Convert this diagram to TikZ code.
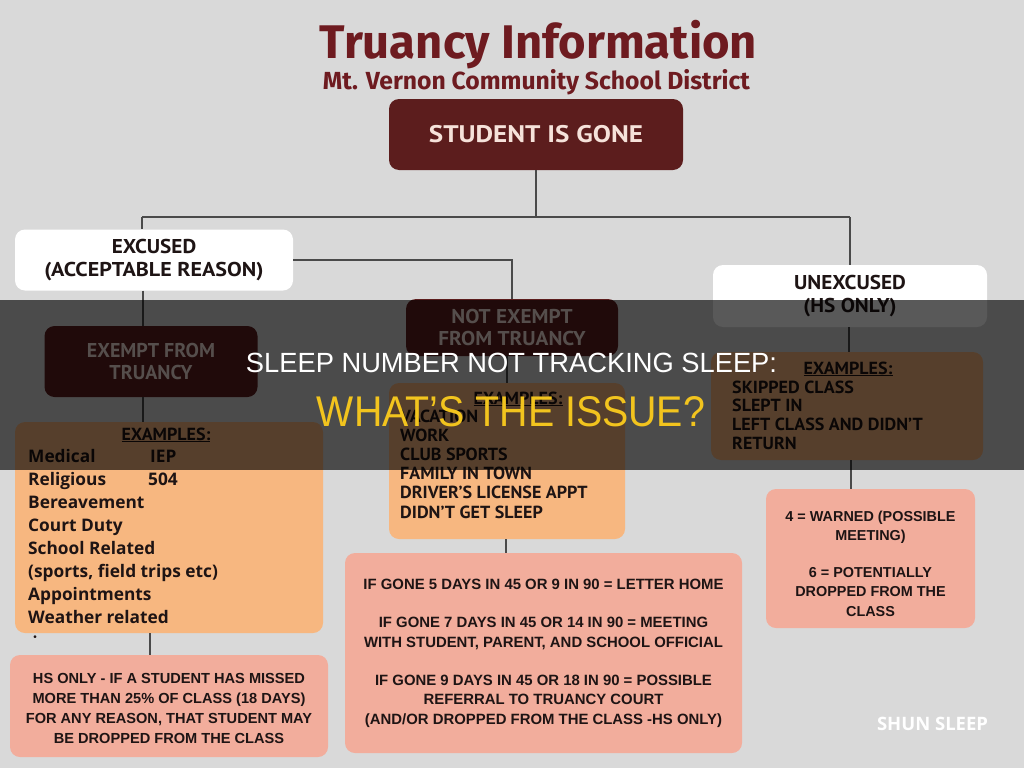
\documentclass[tikz,border=0pt]{standalone}
\usepackage{fontspec}
\usepackage{graphicx}
\setmainfont{Liberation Sans}
\newfontfamily\ptsans{PT Sans}
\newfontfamily\hdr{PT Sans}[FakeStretch=1.06]
\newfontfamily\lst{PT Sans}[FakeStretch=1.03]
\newfontfamily\osans{Open Sans}
\newfontfamily\fira{Fira Sans}
\definecolor{bgc}{HTML}{D9D9D9}
\definecolor{maroon}{HTML}{5C1D1D}
\definecolor{titlec}{HTML}{6E1B20}
\definecolor{cream}{HTML}{F6E2DA}
\definecolor{orangec}{HTML}{F7B780}
\definecolor{salmon}{HTML}{F2AD9C}
\definecolor{ink}{HTML}{1E1414}
\definecolor{linec}{HTML}{4A4A4A}
\definecolor{yellowc}{HTML}{F2C41E}
\begin{document}
\begin{tikzpicture}[x=1pt,y=-1pt,
  box/.style={rounded corners=10pt, inner sep=0pt, align=center},
  mbox/.style={box, fill=maroon, text=cream, font=\hdr\bfseries\fontsize{20}{22}\selectfont},
  wbox/.style={box, fill=white, text=ink, font=\hdr\bfseries\fontsize{20}{23.5}\selectfont},
  obox/.style={box, fill=orangec},
  sbox/.style={box, fill=salmon, text=ink, font=\bfseries\fontsize{14.9}{19.3}\selectfont},
  stxt/.style={inner sep=0pt, align=center, text=ink, font=\bfseries\fontsize{14.4}{19.3}\selectfont},
  conn/.style={draw=linec, line width=1.3pt},
  listtxt/.style={inner sep=0pt, anchor=base west, text=ink, font=\lst\bfseries\fontsize{17.5}{19.2}\selectfont},
  extitle/.style={inner sep=0pt, anchor=base, text=ink, font=\lst\bfseries\fontsize{17.5}{19.2}\selectfont}
]
% background
\fill[bgc] (0,0) rectangle (1024,768);
\useasboundingbox (0,0) rectangle (1024,768);

% title
\node[anchor=base, inner sep=0pt, text=titlec] (title) at (538.5,58)
  {\resizebox{437pt}{!}{\fira\bfseries Truancy Information}};
\node[anchor=base, inner sep=0pt, text=titlec] (subtitle) at (536.5,89)
  {\resizebox{427pt}{!}{\fira\bfseries Mt. Vernon Community School District}};

% boxes
\node[mbox, minimum width=294pt, minimum height=71pt, font=\ptsans\bfseries\fontsize{24}{26}\selectfont] (gone) at (536,134.5) {\scalebox{1.13}[1]{STUDENT IS GONE}};
\node[wbox, minimum width=278pt, minimum height=61pt] (excused) at (154,260) {EXCUSED\\\scalebox{1.04}[1]{(ACCEPTABLE REASON)}};
\node[mbox, minimum width=213pt, minimum height=71pt, font=\ptsans\bfseries\fontsize{20}{21.5}\selectfont] (exempt) at (151,361.5) {EXEMPT FROM\\TRUANCY};
\node[obox, minimum width=308pt, minimum height=211pt] (exL) at (169,527.5) {};
\node[sbox, minimum width=318pt, minimum height=102pt] (hsL) at (169,706) {};
\node[stxt, font=\bfseries\fontsize{14.6}{20}\selectfont] (hsLt) at (169,708.5) {HS ONLY - IF A STUDENT HAS MISSED\\MORE THAN 25\% OF CLASS (18 DAYS)\\FOR ANY REASON, THAT STUDENT MAY\\BE DROPPED FROM THE CLASS};

\node[mbox, minimum width=212pt, minimum height=57pt] (notex) at (512,327.5) {NOT EXEMPT\\FROM TRUANCY};
\node[obox, minimum width=236pt, minimum height=156pt] (exM) at (507,461) {};
\node[sbox, minimum width=397pt, minimum height=200pt] (bigM) at (543.5,653)
  {IF GONE 5 DAYS IN 45 OR 9 IN 90 = LETTER HOME\\[19.3pt]
   IF GONE 7 DAYS IN 45 OR 14 IN 90 = MEETING\\WITH STUDENT, PARENT, AND SCHOOL OFFICIAL\\[19.3pt]
   IF GONE 9 DAYS IN 45 OR 18 IN 90 = POSSIBLE\\REFERRAL TO TRUANCY COURT\\(AND/OR DROPPED FROM THE CLASS -HS ONLY)};

\node[wbox, minimum width=274pt, minimum height=62pt, font=\hdr\bfseries\fontsize{20}{23}\selectfont] (unex) at (850,296) {UNEXCUSED\\(HS ONLY)};
\node[obox, minimum width=272pt, minimum height=108pt] (exR) at (847,406) {};
\node[sbox, minimum width=209pt, minimum height=139pt] (salR) at (870.5,558.5) {};
\node[stxt] (salRt) at (870.5,563.5)
  {4 = WARNED (POSSIBLE\\MEETING)\\[18pt]6 = POTENTIALLY\\DROPPED FROM THE\\CLASS};

% list texts
\node[extitle] (exLh) at (166,440) {\underline{EXAMPLES:}};
\node[listtxt, font=\osans\bfseries\fontsize{17.3}{23}\selectfont] (exLt) at (28,462)
  {\begin{tabular}[t]{@{}l@{}}
   \makebox[122pt][l]{Medical}IEP\\
   \makebox[120pt][l]{Religious}504\\
   Bereavement\\
   Court Duty\\
   School Related\\
   (sports, field trips etc)\\
   Appointments\\
   Weather related
   \end{tabular}};
\node[inner sep=0pt, text=ink, font=\fontsize{10}{10}\selectfont] (bullet) at (35,638.5) {•};

\node[extitle] (exMh) at (518,404) {\underline{EXAMPLES:}};
\node[listtxt] (exMt) at (400,422)
  {\begin{tabular}[t]{@{}l@{}}
   VACATION\\
   WORK\\
   CLUB SPORTS\\
   FAMILY IN TOWN\\
   DRIVER’S LICENSE APPT\\
   DIDN’T GET SLEEP
   \end{tabular}};

\node[extitle] (exRh) at (848,374) {\underline{EXAMPLES:}};
\node[listtxt, font=\lst\bfseries\fontsize{17.5}{18.8}\selectfont] (exRt) at (732,393)
  {\begin{tabular}[t]{@{}l@{}}
   SKIPPED CLASS\\
   SLEPT IN\\
   LEFT CLASS AND DIDN’T\\
   RETURN
   \end{tabular}};

% connectors
\coordinate (jL) at (142,217);
\coordinate (jR) at (850,217);
\coordinate (cA) at (143,0);
\coordinate (cB) at (150,0);
\coordinate (cC) at (507,0);
\coordinate (cD) at (506,0);
\coordinate (cE) at (849,0);
\coordinate (cF) at (851,0);
\draw[conn] (gone.south) -- (gone.south |- jL);
\draw[conn] (jL) -- (jR);
\draw[conn] (jL) -- (jL |- excused.north);
\draw[conn] (jR) -- (jR |- unex.north);
\draw[conn] (excused.east) -| (notex.north);
\draw[conn] (cA |- excused.south) -- (cA |- exempt.north);
\draw[conn] (cA |- exempt.south) -- (cA |- exL.north);
\draw[conn] (cB |- exL.south) -- (cB |- hsL.north);
\draw[conn] (cC |- notex.south) -- (cC |- exM.north);
\draw[conn] (cD |- exM.south) -- (cD |- bigM.north);
\draw[conn] (cE |- unex.south) -- (cE |- exR.north);
\draw[conn] (cF |- exR.south) -- (cF |- salR.north);

% watermark
\node[anchor=base, inner sep=0pt, text=white] (wm) at (932.5,730)
  {\resizebox{111pt}{!}{\osans\bfseries SHUN SLEEP}};

% overlay banner
\fill[black, opacity=0.65] (0,300) rectangle (1024,470);
\node[anchor=base, inner sep=0pt, text=white] (ov1) at (511.5,372.7)
  {\resizebox{531pt}{19.4pt}{SLEEP NUMBER NOT TRACKING SLEEP:}};
\node[anchor=base, inner sep=0pt, text=yellowc] (ov2) at (511,426.7)
  {\resizebox{388pt}{30pt}{WHAT'S THE ISSUE?}};
\end{tikzpicture}
\end{document}
